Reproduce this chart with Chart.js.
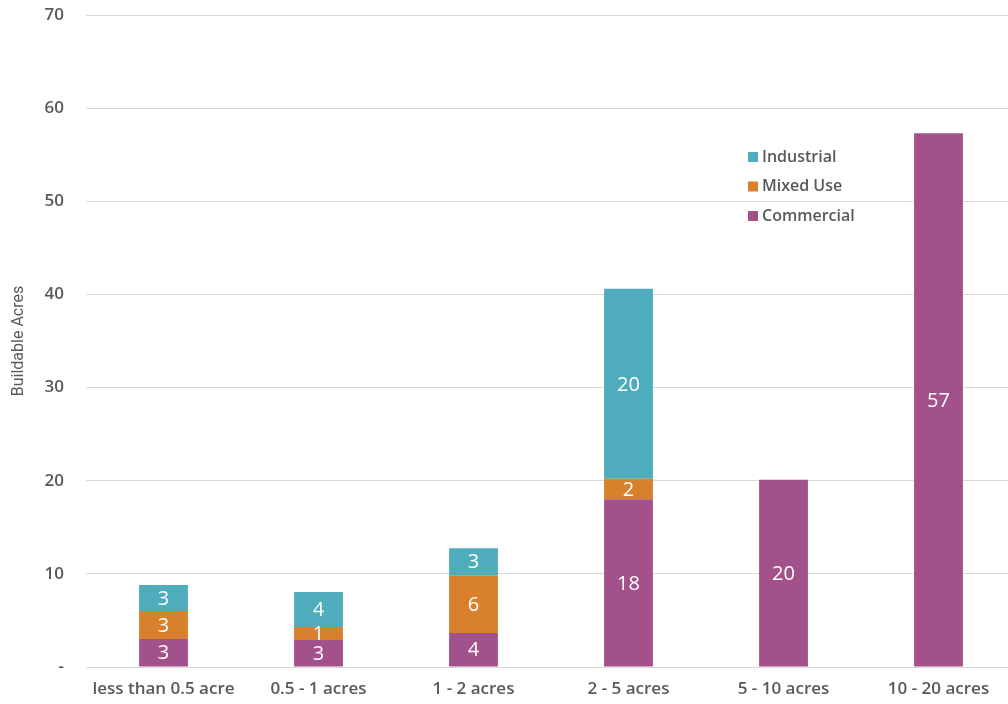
<!DOCTYPE html>
<html lang="en">
<head>
    <meta charset="UTF-8">
    <title>Buildable Acres by Parcel Size</title>
    <script src="https://cdn.jsdelivr.net/npm/chart.js"></script>
    <style>
        html, body {
            margin: 0;
            padding: 0;
            background: #ffffff;
            overflow: hidden;
        }
        .chart-box {
            position: relative;
            width: 1016px;
            height: 704px;
        }
    </style>
</head>
<body>
    <div class="chart-box">
        <canvas id="acresChart"></canvas>
    </div>

    <script>
        const categories = ['less than 0.5 acre', '0.5 - 1 acres', '1 - 2 acres', '2 - 5 acres', '5 - 10 acres', '10 - 20 acres'];
        const commercial = [3.0, 2.9, 3.65, 18.0, 20.1, 57.3];
        const mixedUse = [3.0, 1.4, 6.2, 2.2, 0, 0];
        const industrial = [2.8, 3.75, 2.9, 20.4, 0, 0];
        const yTicks = [0, 10, 20, 30, 40, 50, 60, 70];

        const colors = {
            commercial: '#a2518a',
            mixedUse: '#d8802b',
            industrial: '#4eacbd'
        };
        const fontFamily = "'Open Sans', 'Liberation Sans', sans-serif";
        const narrowFamily = "'Liberation Sans Narrow', 'Roboto', sans-serif";

        // white value labels in the middle of each segment
        const segmentLabels = {
            id: 'segmentLabels',
            afterDatasetsDraw(chart) {
                const ctx = chart.ctx;
                ctx.save();
                ctx.fillStyle = '#ffffff';
                ctx.font = '500 20px ' + fontFamily;
                ctx.textAlign = 'center';
                ctx.textBaseline = 'middle';
                chart.data.datasets.forEach((ds, i) => {
                    chart.getDatasetMeta(i).data.forEach((bar, j) => {
                        const v = ds.data[j];
                        if (!v) return;
                        const mid = (bar.y + bar.base) / 2;
                        ctx.fillText(String(Math.round(v)), bar.x, mid + 1);
                    });
                });
                ctx.restore();
            }
        };

        // legend inside the plot, reversed order like the original
        const insideLegend = {
            id: 'insideLegend',
            afterDraw(chart) {
                const ctx = chart.ctx;
                const sets = chart.data.datasets.slice().reverse();
                ctx.save();
                ctx.font = '600 16px ' + fontFamily;
                ctx.textBaseline = 'middle';
                sets.forEach((ds, k) => {
                    const y = 157 + k * 29.5;
                    ctx.fillStyle = ds.backgroundColor;
                    ctx.fillRect(748, y - 5, 10, 10);
                    ctx.fillStyle = '#595959';
                    ctx.fillText(ds.label, 762, y);
                });
                ctx.restore();
            }
        };

        const ctx = document.getElementById('acresChart').getContext('2d');
        new Chart(ctx, {
            type: 'bar',
            data: {
                labels: categories,
                datasets: [
                    { label: 'Commercial', data: commercial, backgroundColor: colors.commercial },
                    { label: 'Mixed Use', data: mixedUse, backgroundColor: colors.mixedUse },
                    { label: 'Industrial', data: industrial, backgroundColor: colors.industrial }
                ]
            },
            options: {
                responsive: true,
                maintainAspectRatio: false,
                animation: false,
                layout: {
                    padding: { top: 15, left: 0, right: 0, bottom: 0 }
                },
                datasets: {
                    bar: {
                        categoryPercentage: 1,
                        barPercentage: 0.315
                    }
                },
                scales: {
                    x: {
                        stacked: true,
                        grid: { display: false },
                        border: { color: '#d9d9d9', width: 1 },
                        ticks: {
                            color: '#595959',
                            font: { family: fontFamily, size: 17, weight: '600' },
                            padding: 4,
                            maxRotation: 0
                        },
                        afterFit(scale) { scale.height = 37; }
                    },
                    y: {
                        stacked: true,
                        min: 0,
                        max: 70,
                        afterBuildTicks(scale) {
                            scale.ticks = yTicks.map(v => ({ value: v }));
                        },
                        grid: { color: '#d9d9d9', drawTicks: false },
                        border: { display: false },
                        ticks: {
                            color: '#595959',
                            font: { family: fontFamily, size: 17, weight: '600' },
                            padding: 22,
                            callback: v => v === 0 ? '-' : v
                        },
                        title: {
                            display: true,
                            text: 'Buildable Acres',
                            color: '#595959',
                            font: { family: narrowFamily, size: 16 },
                            padding: { top: 9, bottom: 0 }
                        },
                        afterFit(scale) {
                            scale.width = 86;
                            // tick padding should not push the plot top down
                            scale.paddingTop = 9;
                            scale.paddingBottom = 9;
                        }
                    }
                },
                plugins: {
                    legend: { display: false },
                    tooltip: { enabled: false }
                }
            },
            plugins: [segmentLabels, insideLegend]
        });
    </script>
</body>
</html>
